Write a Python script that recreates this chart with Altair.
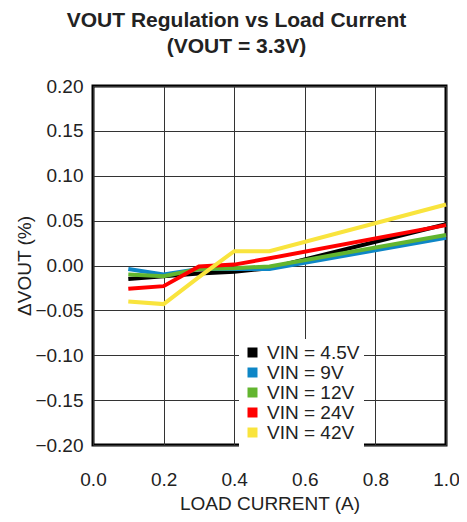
import altair as alt
import pandas as pd

# Data
load_current = [0.1, 0.2, 0.3, 0.4, 0.5, 1.0]
vin_labels = ["VIN = 4.5V", "VIN = 9V", "VIN = 12V", "VIN = 24V", "VIN = 42V"]
v_4p5 = [-0.015, -0.012, -0.009, -0.007, -0.003, 0.046]
v_9 = [-0.004, -0.010, -0.004, -0.004, -0.004, 0.031]
v_12 = [-0.010, -0.012, -0.004, -0.003, -0.001, 0.034]
v_24 = [-0.026, -0.023, -0.001, 0.001, 0.008, 0.045]
v_42 = [-0.040, -0.043, -0.013, 0.016, 0.016, 0.068]
colors = ["#000000", "#0E86C6", "#62B52F", "#FF0000", "#F9E43D"]
draw_order = [4, 3, 2, 0, 1]  # yellow, red, green, black, blue

series = [v_4p5, v_9, v_12, v_24, v_42]
rows = []
for i, (lab, vals) in enumerate(zip(vin_labels, series)):
    for x, y in zip(load_current, vals):
        rows.append({"current": x, "dv": y, "vin": lab, "order": draw_order.index(i)})
df = pd.DataFrame(rows)

FONT = "Liberation Sans"

x_enc = alt.X("current:Q", scale=alt.Scale(domain=[0, 1], nice=False),
              axis=alt.Axis(values=[0, 0.2, 0.4, 0.6, 0.8, 1.0], format=".1f",
                            title="LOAD CURRENT (A)", labelPadding=25, titlePadding=5,
                            labelFlush=False))
y_enc = alt.Y("dv:Q", scale=alt.Scale(domain=[-0.2, 0.2], nice=False),
              axis=alt.Axis(values=[-0.2, -0.15, -0.1, -0.05, 0, 0.05, 0.1, 0.15, 0.2],
                            format=".2f", title="ΔVOUT (%)", labelPadding=10, titlePadding=0,
                            labelFlush=False))

lines = alt.Chart(df).mark_line(strokeWidth=4, strokeJoin="miter").encode(
    x=x_enc, y=y_enc,
    stroke=alt.Stroke("vin:N", sort=vin_labels,
                      scale=alt.Scale(domain=vin_labels, range=colors), legend=None),
    detail="vin:N",
    order=alt.Order("order:Q"),
)

legend_layer = alt.Chart(df).transform_filter("false").mark_square(size=100, opacity=1).encode(
    x=x_enc, y=y_enc,
    color=alt.Color("vin:N", sort=vin_labels,
                    scale=alt.Scale(domain=vin_labels, range=colors),
                    legend=alt.Legend(title=None, orient="none", legendX=146, legendY=253,
                                      symbolType="square", symbolSize=100,
                                      labelFontSize=19, labelFont=FONT, labelColor="#222222",
                                      labelOffset=5, rowPadding=0, padding=4,
                                      fillColor="white")),
)

chart = alt.layer(lines, legend_layer).resolve_scale(color="independent").properties(
    width=353,
    height=359,
    padding={"left": 85, "top": 78, "right": 13, "bottom": 69},
    autosize=alt.AutoSizeParams(type="none"),
    background="white",
    title=alt.TitleParams(text=["VOUT Regulation vs Load Current", "(VOUT = 3.3V)"],
                          fontSize=21, font=FONT, fontWeight="bold", color="#222222",
                          anchor="middle", dx=-33, offset=20, lineHeight=26),
).configure_view(
    stroke="#000000", strokeWidth=3
).configure_axis(
    grid=True, gridColor="#333333", gridWidth=1, gridOpacity=1,
    domain=False, ticks=False,
    labelFont=FONT, labelFontSize=19, labelColor="#222222",
    titleFont=FONT, titleFontSize=19, titleFontWeight="normal", titleColor="#222222",
)

chart.save("out.html", embed_options={"renderer": "svg", "actions": False})
